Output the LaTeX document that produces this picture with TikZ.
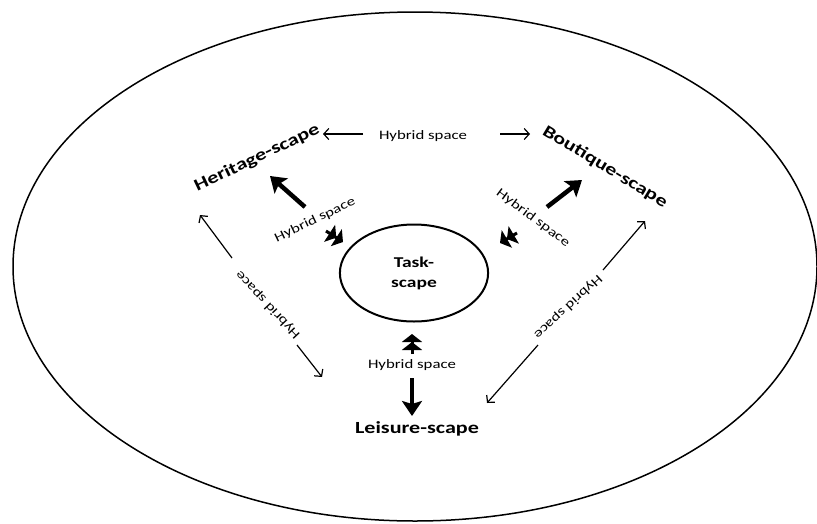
\documentclass[tikz,border=0pt]{standalone}
\usepackage{fontspec}
\setmainfont{Carlito}
\usetikzlibrary{arrows.meta,shapes.geometric}

\begin{document}
\begin{tikzpicture}[x=1pt, y=-1pt,
    scape/.style={font=\bfseries\fontsize{17}{19}\selectfont, inner sep=0pt, xscale=1.3},
    hybrid/.style={font=\fontsize{12.9}{14}\selectfont, inner sep=0pt, xscale=1.3},
    link/.style={line width=1.2pt, -{Straight Barb[length=5pt,width=11pt]}},
    pull/.style={line width=4.5pt, -{Stealth[length=15pt,width=20pt,inset=3pt]}},
    nib/.style={line width=3pt, -{Triangle[length=8pt,width=20pt]Triangle[length=8pt,width=20pt]}}]
  \useasboundingbox (0,0) rectangle (817,523);

  \draw[line width=1.5pt] (415,266.5) ellipse [x radius=402, y radius=254.5];
  \node[draw, ellipse, line width=2pt, xscale=1.3, minimum width=114pt, minimum height=97pt,
        align=center, font=\bfseries\fontsize{15}{20}\selectfont] (task) at (414,273) {Task-\\scape};

  \node[rotate=25.6, scape] (heritage) at (257,158) {Heritage-scape};
  \node[rotate=-31.1, scape] (boutique) at (605,167) {Boutique-scape};
  \node[scape] (leisure) at (417,429) {Leisure-scape};

  \node[hybrid] (hyTop) at (423,136) {Hybrid space};
  \node[rotate=133.4, hybrid] (hyLeft) at (268,305) {Hybrid space};
  \node[rotate=-137.1, hybrid] (hyRight) at (568,307) {Hybrid space};
  \node[rotate=25.6, hybrid] (hyHer) at (315,220) {Hybrid space};
  \node[rotate=-36.7, hybrid] (hyBou) at (533,218) {Hybrid space};
  \node[hybrid] (hyLei) at (412,365) {Hybrid space};

  \coordinate (tl0) at (363,134); \coordinate (tl1) at (323,134);
  \coordinate (tr0) at (500,134); \coordinate (tr1) at (530,134);
  \coordinate (lu0) at (232,258); \coordinate (lu1) at (200,215);
  \coordinate (ld0) at (297,345); \coordinate (ld1) at (322,377);
  \coordinate (ru0) at (603,270); \coordinate (ru1) at (645,221);
  \coordinate (rd0) at (538,345); \coordinate (rd1) at (487,403);
  \foreach \c in {tl,tr,lu,ld,ru,rd}
    \draw[link] (\c0) -- (\c1);

  \coordinate (ph0) at (305,207); \coordinate (ph1) at (270,176);
  \coordinate (pb0) at (547,207); \coordinate (pb1) at (582,180);
  \coordinate (pl0) at (412,378); \coordinate (pl1) at (412,416);
  \foreach \c in {ph,pb,pl}
    \draw[pull] (\c0) -- (\c1);

  \coordinate (nh0) at (326,231); \coordinate (nh1) at (343,242);
  \coordinate (nb0) at (517,233); \coordinate (nb1) at (500,243);
  \coordinate (nl0) at (412,354); \coordinate (nl1) at (412,334);
  \foreach \c in {nh,nb,nl}
    \draw[nib] (\c0) -- (\c1);
\end{tikzpicture}
\end{document}
